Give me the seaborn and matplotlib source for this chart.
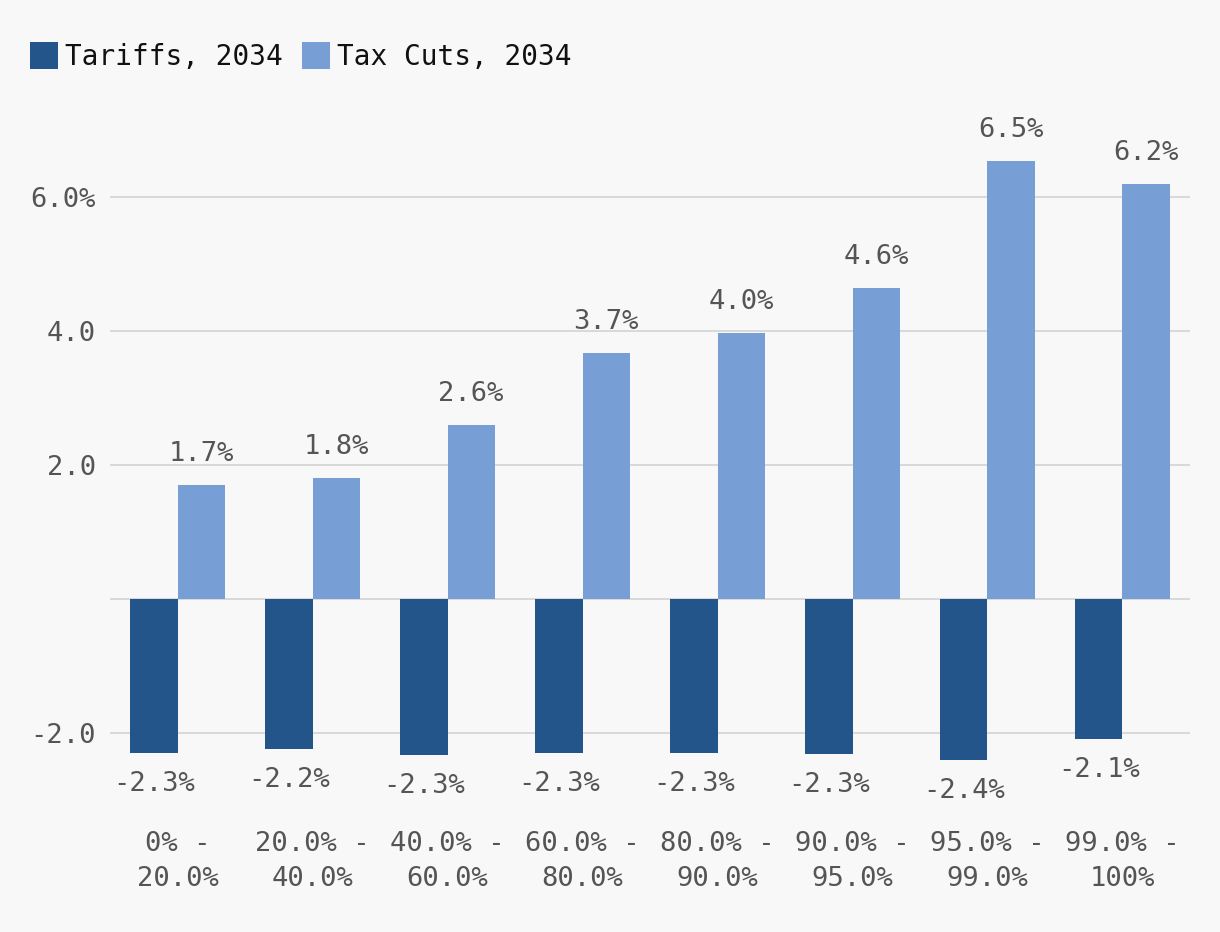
import numpy as np
import pandas as pd
import seaborn as sns
import matplotlib.pyplot as plt
from matplotlib.patches import Patch

# data
brackets = ["0% -\n20.0%", "20.0% -\n40.0%", "40.0% -\n60.0%", "60.0% -\n80.0%",
            "80.0% -\n90.0%", "90.0% -\n95.0%", "95.0% -\n99.0%", "99.0% -\n100%"]
tariffs = [-2.30, -2.24, -2.33, -2.30, -2.30, -2.31, -2.40, -2.09]
tax_cuts = [1.70, 1.81, 2.60, 3.67, 3.97, 4.64, 6.54, 6.19]
series = ["Tariffs, 2034", "Tax Cuts, 2034"]
colors = ["#23548a", "#789fd5"]

df = pd.DataFrame({
    "bracket": brackets * 2,
    "value": tariffs + tax_cuts,
    "series": [series[0]] * len(brackets) + [series[1]] * len(brackets),
})

sns.set_style("white")
plt.rcParams["font.family"] = ["DejaVu Sans Mono", "DejaVu Sans"]
bg = "#f8f8f8"
grey = "#555555"

fig = plt.figure(figsize=(12.2, 9.32), dpi=100, facecolor=bg)
ax = fig.add_axes([0.0902, 0.1416, 0.8852, 0.7479], facecolor=bg)

sns.barplot(data=df, x="bracket", y="value", hue="series", palette=colors,
            width=0.7, saturation=1, ax=ax, legend=False, zorder=3,
            linewidth=0, edgecolor="none")

# value labels
for cont, vals in zip(ax.containers, [tariffs, tax_cuts]):
    ax.bar_label(cont, labels=[f"{v:.1f}%" for v in vals], padding=13,
                 fontsize=19.5, color=grey)

ax.set_xlim(-0.5, 7.5)
ax.set_ylim(-3.0, 7.4)
ax.set_yticks([-2, 0, 2, 4, 6])
ax.set_yticklabels(["-2.0", "", "2.0", "4.0", "6.0%"])
ax.grid(axis="y", color="#d9d9d9", linewidth=1.4, zorder=0)
ax.set_axisbelow(True)
ax.tick_params(axis="y", length=0, pad=10, labelsize=19.5, labelcolor=grey)
ax.tick_params(axis="x", length=0, pad=22, labelsize=19.5, labelcolor=grey)
for lab in ax.get_xticklabels():
    lab.set_linespacing(1.45)
    lab.set_multialignment("center")
ax.set_xlabel("")
ax.set_ylabel("")
sns.despine(ax=ax, left=True, bottom=True)

handles = [Patch(facecolor=c, edgecolor="none") for c in colors]
fig.legend(handles, series, loc="upper left", bbox_to_anchor=(0.0156, 0.967),
           ncol=2, frameon=False, fontsize=20, handlelength=1.0,
           handleheight=1.1, handletextpad=0.25, columnspacing=0.7,
           borderaxespad=0, labelcolor="#111111")

fig.savefig("out.png", dpi=100, facecolor=bg)
